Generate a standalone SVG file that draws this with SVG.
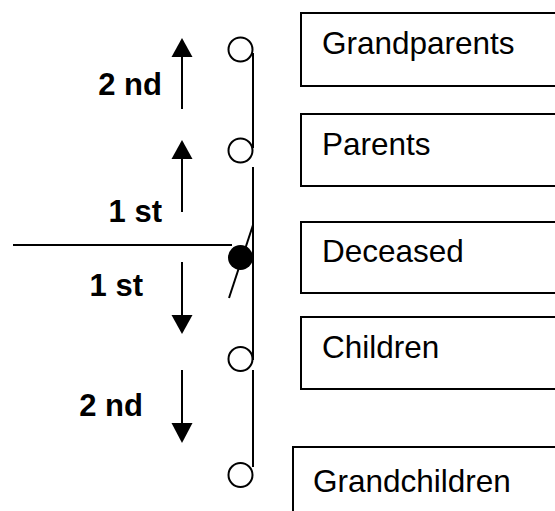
<svg xmlns="http://www.w3.org/2000/svg" width="555" height="511" viewBox="0 0 555 511">
<style>
.box{fill:#fff;stroke:#000;stroke-width:2}
.lbl{font-family:"Liberation Sans",Arial,sans-serif;font-size:31.5px;fill:#000}
.deg{font-family:"Liberation Sans",Arial,sans-serif;font-size:31px;font-weight:bold;fill:#000;text-anchor:end}
.ln{stroke:#000;stroke-width:2;fill:none}
.oc{fill:#fff;stroke:#000;stroke-width:2}
.head{fill:#000}
</style>
<rect width="555" height="511" fill="#fff"/>
<g id="connectors">
<line class="ln" x1="253" y1="53" x2="253" y2="148"/>
<line class="ln" x1="253" y1="167" x2="253" y2="360"/>
<line class="ln" x1="253" y1="370" x2="253" y2="467"/>
<line class="ln" x1="13" y1="245" x2="232" y2="245"/>
<line class="ln" x1="253" y1="225" x2="229" y2="298"/>
<line class="ln" x1="182" y1="109" x2="182" y2="55"/>
<polygon class="head" points="182,38 171.5,57 192.5,57"/>
<line class="ln" x1="182" y1="212" x2="182" y2="157"/>
<polygon class="head" points="182,140 171.5,159 192.5,159"/>
<line class="ln" x1="182" y1="262" x2="182" y2="317"/>
<polygon class="head" points="182,334 171.5,315 192.5,315"/>
<line class="ln" x1="182" y1="370" x2="182" y2="425"/>
<polygon class="head" points="182,443 171.5,423 192.5,423"/>
</g>
<g id="circles">
<circle class="oc" cx="240.5" cy="49.5" r="12"/>
<circle class="oc" cx="240.5" cy="150.5" r="12"/>
<circle cx="240.5" cy="257.5" r="12.5" fill="#000"/>
<circle class="oc" cx="240.5" cy="359" r="12"/>
<circle class="oc" cx="240.5" cy="475" r="12"/>
</g>
<g id="degree-labels">
<text class="deg" x="162" y="95">2 nd</text>
<text class="deg" x="162" y="222">1 st</text>
<text class="deg" x="143" y="296">1 st</text>
<text class="deg" x="143" y="416">2 nd</text>
</g>
<g id="grandparents">
<rect class="box" x="301" y="13" width="270" height="73"/>
<text class="lbl" x="322" y="54">Grandparents</text>
</g>
<g id="parents">
<rect class="box" x="301" y="114" width="270" height="72"/>
<text class="lbl" x="322" y="155">Parents</text>
</g>
<g id="deceased">
<rect class="box" x="301" y="222" width="270" height="71"/>
<text class="lbl" x="322" y="262">Deceased</text>
</g>
<g id="children">
<rect class="box" x="301" y="317" width="270" height="72"/>
<text class="lbl" x="322" y="358">Children</text>
</g>
<g id="grandchildren">
<rect class="box" x="293" y="447" width="280" height="80"/>
<text class="lbl" x="313" y="492">Grandchildren</text>
</g>
</svg>
